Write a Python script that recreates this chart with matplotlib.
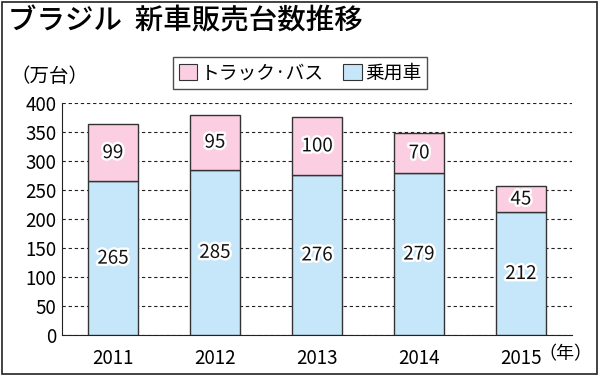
import matplotlib
matplotlib.use("Agg")
import matplotlib.pyplot as plt
import matplotlib.patheffects as pe
from matplotlib.patches import Rectangle, Patch

plt.rcParams['font.family'] = ['Noto Sans CJK JP', 'DejaVu Sans']
NUM_FONT = ['Noto Sans CJK JP', 'DejaVu Sans']

years = ['2011', '2012', '2013', '2014', '2015']
passenger = [265, 285, 276, 279, 212]
truck_bus = [99, 95, 100, 70, 45]
series_names = ['トラック·バス', '乗用車']
yticks = [0, 50, 100, 150, 200, 250, 300, 350, 400]

pink = '#FCCEE1'
blue = '#C6E7F9'
edge = '#333333'

fig = plt.figure(figsize=(6, 3.75), dpi=100)
ax = fig.add_axes([62/600, 1-335/375, 510/600, 232/375])

x = list(range(len(years)))
w = 0.49
ax.bar(x, passenger, width=w, color=blue, edgecolor=edge, linewidth=1.0, zorder=3)
ax.bar(x, truck_bus, width=w, bottom=passenger, color=pink, edgecolor=edge, linewidth=1.0, zorder=3)

stroke = [pe.withStroke(linewidth=3.5, foreground='white')]
for i in x:
    ax.text(i, passenger[i] / 2, str(passenger[i]), ha='center', va='center',
            fontsize=13.5, family=NUM_FONT, color='#111111', zorder=5, path_effects=stroke)
    ax.text(i, passenger[i] + truck_bus[i] / 2, str(truck_bus[i]), ha='center', va='center',
            fontsize=13.5, family=NUM_FONT, color='#111111', zorder=5, path_effects=stroke)

ax.set_xlim(-0.5, 4.5)
ax.set_ylim(0, 400)
ax.set_yticks(yticks)
ax.set_yticklabels([str(v) for v in yticks], fontsize=13.5, family=NUM_FONT)
ax.set_xticks(x)
ax.set_xticklabels(years, fontsize=13.5, family=NUM_FONT)
ax.tick_params(axis='both', length=0, pad=4)
ax.tick_params(axis='x', pad=9)
ax.yaxis.grid(True, linestyle=(0, (3, 2.5)), color='#222222', linewidth=0.8, zorder=0)
for s in ['top', 'right']:
    ax.spines[s].set_visible(False)
ax.spines['left'].set_color('#222222')
ax.spines['bottom'].set_color('#222222')

# unit labels
fig.text(10/600, 1-77/375, '（万台）', fontsize=14, ha='left', va='center')
fig.text(538/600, 1-354/375, '（年）', fontsize=13, ha='left', va='center')

# title
fig.text(8/600, 1-21/375, 'ブラジル  新車販売台数推移', fontsize=20.5, fontweight='medium',
         ha='left', va='center')

# legend
handles = [Patch(facecolor=pink, edgecolor=edge, linewidth=0.8),
           Patch(facecolor=blue, edgecolor=edge, linewidth=0.8)]
leg = fig.legend(handles, series_names, loc='center left',
                 bbox_to_anchor=(173/600, 1-73/375), ncol=2, fontsize=13.5,
                 frameon=True, fancybox=False, edgecolor='#222222',
                 handlelength=1.0, handleheight=1.0, handletextpad=0.2,
                 columnspacing=1.0, borderpad=0.3, borderaxespad=0)
leg.get_frame().set_linewidth(1.0)

# outer frame
fig.patches.append(Rectangle((0.003, 0.004), 0.992, 0.992, transform=fig.transFigure,
                             fill=False, edgecolor='#222222', linewidth=1.2))

fig.savefig('out.png', dpi=100)
